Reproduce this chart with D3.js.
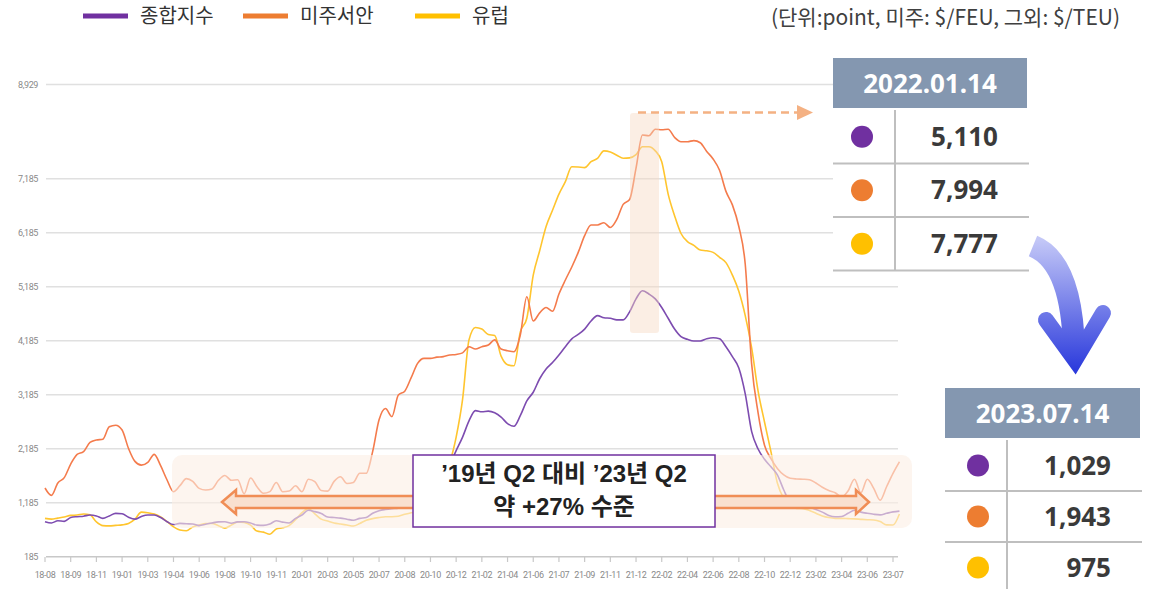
<!DOCTYPE html>
<html>
<head>
<meta charset="utf-8">
<script src="https://cdn.jsdelivr.net/npm/d3@7"></script>
<style>
  body { margin: 0; background: #fff; }
  svg { display: block; }
</style>
</head>
<body>
<div id="chart"></div>
<script>
var width = 1153,
    height = 589;

// x axis labels (one every ~7 weeks)
var xLabels = ["18-08","18-09","18-11","19-01","19-03","19-04","19-06","19-08","19-10","19-11",
  "20-01","20-03","20-05","20-07","20-08","20-10","20-12","21-02","21-04","21-06","21-07",
  "21-09","21-11","21-12","22-02","22-04","22-06","22-08","22-10","22-12","23-02","23-04",
  "23-06","23-07"];
var yTicks = [185, 1185, 2185, 3185, 4185, 5185, 6185, 7185, 8929];

// values, 4 points per label step
var composite = [833,810,850,840,910,926,935,957,940,895,940,988,980,915,880,930,957,957,910,833,
  780,802,795,790,760,785,810,830,833,805,830,833,810,770,765,790,850,825,810,895,
  957,1045,1020,985,920,910,900,880,860,895,910,990,1037,1060,1075,1085,1120,1180,1260,1350,
  1450,1580,1720,1900,2150,2400,2700,2890,2870,2880,2850,2770,2650,2600,2800,3070,3230,3480,3660,3780,
  3920,4074,4220,4300,4400,4550,4650,4610,4600,4570,4570,4720,4960,5110,5050,4960,4800,4600,4400,4259,
  4210,4180,4180,4220,4240,4220,4074,3890,3680,3200,2500,2180,1990,1850,1700,1420,1190,1130,1111,1095,
  1060,1010,950,926,930,988,1045,1010,988,970,960,988,1015,1029];
var usWest = [1457,1320,1550,1650,1900,2080,2130,2300,2345,2360,2590,2620,2530,2190,1950,1880,1930,2080,1870,1605,
  1389,1500,1630,1580,1450,1420,1440,1600,1690,1600,1610,1350,1642,1480,1359,1390,1560,1389,1400,1500,
  1389,1620,1574,1410,1400,1580,1666,1540,1560,1729,1729,2130,2720,2930,2780,3180,3250,3500,3765,3858,
  3858,3880,3890,3920,3930,3960,4074,4030,4074,4105,4200,4030,4000,3981,4300,5000,4550,4700,4800,4730,
  5050,5309,5550,5820,6130,6328,6328,6370,6280,6430,6710,6800,7380,7994,7980,8100,8090,8100,7950,7870,
  7870,7890,7850,7690,7550,7340,6950,6700,6300,5600,3750,2850,2250,2000,1820,1700,1637,1625,1620,1610,
  1550,1470,1410,1370,1290,1400,1620,1370,1620,1450,1230,1480,1729,1943];
var europe = [895,880,900,920,950,957,975,960,830,760,755,765,775,800,880,1010,1000,975,920,833,
  740,679,665,735,770,800,800,760,715,770,830,820,770,660,640,600,700,720,760,870,
  1000,1075,980,880,845,810,790,772,753,800,860,890,910,926,926,935,970,1000,1020,1040,
  1080,1150,1400,1900,2400,3100,4200,4430,4400,4300,4280,3900,3740,3720,4350,4600,5400,5850,6300,6600,
  6900,7130,7405,7400,7390,7500,7560,7700,7680,7620,7562,7570,7630,7777,7777,7700,7500,6900,6500,6170,
  6020,5950,5864,5850,5820,5730,5630,5400,5100,4650,4050,3250,2680,2130,1550,1260,1120,1080,1075,1040,
  990,940,910,895,895,890,885,877,870,864,835,775,772,975];

var seriesNames = ["종합지수", "미주서안", "유럽"];
var legendColors = ["#7030A0", "#ED7D31", "#FFC000"];
var lineColors = ["#7D4CB0", "#F47B4C", "#FFC52E"];

var table1Date = "2022.01.14";
var table1Values = ["5,110", "7,994", "7,777"];
var table2Date = "2023.07.14";
var table2Values = ["1,029", "1,943", "975"];

var svg = d3.select("#chart")
    .append("svg")
    .attr("width", width)
    .attr("height", height);

var defs = svg.append("defs");
var grad = defs.append("linearGradient")
    .attr("id", "blueArrow")
    .attr("gradientUnits", "userSpaceOnUse")
    .attr("x1", 0).attr("y1", 240).attr("x2", 0).attr("y2", 370);
grad.append("stop").attr("offset", "0%").attr("stop-color", "#C3C7F7");
grad.append("stop").attr("offset", "100%").attr("stop-color", "#2C3BDC");

var x = d3.scaleLinear().domain([0, xLabels.length - 1]).range([45, 893]);
var y = d3.scaleLinear().domain([185, 8929]).range([556.7, 84.5]);

// grid lines
svg.append("g")
    .selectAll("line")
    .data(yTicks)
    .join("line")
    .attr("x1", 46)
    .attr("x2", 898)
    .attr("y1", d => y(d))
    .attr("y2", d => y(d))
    .attr("stroke", d => d == 185 ? "#C8C8C8" : "#E0E0E0")
    .attr("stroke-width", 1.5);

svg.append("g")
    .selectAll("text")
    .data(yTicks)
    .join("text")
    .attr("x", 38)
    .attr("y", d => y(d) + 3)
    .attr("text-anchor", "end")
    .attr("font-family", "Roboto, 'Noto Sans', sans-serif")
    .attr("font-size", 9)
    .attr("letter-spacing", "-0.4")
    .attr("fill", "#8A8A8A")
    .text(d => d3.format(",")(d));

// x ticks and labels
var xg = svg.append("g");
xg.selectAll("line")
    .data(xLabels)
    .join("line")
    .attr("x1", (d, i) => x(i))
    .attr("x2", (d, i) => x(i))
    .attr("y1", 557)
    .attr("y2", 562)
    .attr("stroke", "#C8C8C8")
    .attr("stroke-width", 1.2);
xg.selectAll("text")
    .data(xLabels)
    .join("text")
    .attr("x", (d, i) => x(i))
    .attr("y", 578)
    .attr("text-anchor", "middle")
    .attr("font-family", "Roboto, 'Noto Sans', sans-serif")
    .attr("font-size", 9)
    .attr("letter-spacing", "-0.4")
    .attr("fill", "#8A8A8A")
    .text(d => d);

// lines
var line = d3.line()
    .x((d, i) => x(i / 4))
    .y(d => y(d))
    .curve(d3.curveMonotoneX);

[europe, usWest, composite].forEach(function(s, k) {
  var c = [lineColors[2], lineColors[1], lineColors[0]][k];
  svg.append("path")
      .attr("d", line(s))
      .attr("fill", "none")
      .attr("stroke", c)
      .attr("stroke-width", 1.6);
});

// highlight column at 2022.01.14
svg.append("rect")
    .attr("x", 630).attr("y", 113)
    .attr("width", 29).attr("height", 220)
    .attr("rx", 3)
    .attr("fill", "#F6D9C4")
    .attr("opacity", 0.45);

// dashed arrow to table
svg.append("line")
    .attr("x1", 638).attr("x2", 797)
    .attr("y1", 112.5).attr("y2", 112.5)
    .attr("stroke", "#F4B183")
    .attr("stroke-width", 2.5)
    .attr("stroke-dasharray", "8,5");
svg.append("path")
    .attr("d", "M797,105 L813,112.5 L797,120 Z")
    .attr("fill", "#F4B183");

// band for recent level
svg.append("rect")
    .attr("x", 172).attr("y", 455)
    .attr("width", 740).attr("height", 73)
    .attr("rx", 10)
    .attr("fill", "#FBEEE4")
    .attr("opacity", 0.6);

// double arrow
svg.append("path")
    .attr("d", "M222,502 L236,490 L236,496 L856,496 L856,490 L869,502 L856,514 L856,508 L236,508 L236,514 Z")
    .attr("fill", "#F9E0CF")
    .attr("stroke", "#F08D55")
    .attr("stroke-width", 2.5)
    .attr("stroke-linejoin", "miter");

// annotation box
svg.append("rect")
    .attr("x", 413).attr("y", 455)
    .attr("width", 302).attr("height", 72)
    .attr("fill", "#fff")
    .attr("stroke", "#7030A0")
    .attr("stroke-width", 1.5);
var ann = svg.append("text")
    .attr("text-anchor", "middle")
    .attr("font-family", "'Liberation Sans', 'Noto Sans CJK KR', sans-serif")
    .attr("font-weight", "bold")
    .attr("font-size", 24)
    .attr("fill", "#222");
ann.append("tspan").attr("x", 564).attr("y", 482).text("’19년 Q2 대비 ’23년 Q2");
ann.append("tspan").attr("x", 564).attr("y", 515).text("약 +27% 수준");

// legend
var lg = svg.append("g");
var legendX = [83, 243, 415];
seriesNames.forEach(function(n, i) {
  lg.append("line")
      .attr("x1", legendX[i]).attr("x2", legendX[i] + 45)
      .attr("y1", 16).attr("y2", 16)
      .attr("stroke", legendColors[i])
      .attr("stroke-width", 5);
  lg.append("text")
      .attr("x", legendX[i] + 57)
      .attr("y", 23)
      .attr("font-family", "'Noto Sans CJK KR', sans-serif")
      .attr("font-size", 20)
      .attr("fill", "#333")
      .text(n);
});

svg.append("text")
    .attr("x", 1120).attr("y", 25)
    .attr("text-anchor", "end")
    .attr("font-family", "'Noto Sans CJK KR', sans-serif")
    .attr("font-size", 21)
    .attr("fill", "#404040")
    .text("(단위:point, 미주: $/FEU, 그외: $/TEU)");

// tables
function drawTable(opt) {
  var g = svg.append("g");
  g.append("rect")
      .attr("x", opt.x).attr("y", opt.y + 50)
      .attr("width", opt.w).attr("height", opt.rowH * 3 + 4)
      .attr("fill", "#fff");
  g.append("rect")
      .attr("x", opt.x).attr("y", opt.y)
      .attr("width", opt.w).attr("height", 50)
      .attr("fill", "#8497B0");
  g.append("text")
      .attr("x", opt.x + opt.w / 2).attr("y", opt.y + 35)
      .attr("text-anchor", "middle")
      .attr("font-family", "'Noto Sans', sans-serif")
      .attr("font-weight", "bold")
      .attr("font-size", 26)
      .attr("fill", "#fff")
      .text(opt.date);
  g.append("line")
      .attr("x1", opt.divX).attr("x2", opt.divX)
      .attr("y1", opt.y + 52).attr("y2", opt.y + 52 + opt.rowH * 3)
      .attr("stroke", "#BFBFBF").attr("stroke-width", 2);
  opt.values.forEach(function(v, i) {
    var cy = opt.y + 52 + opt.rowH * i + opt.rowH / 2;
    if (i < 2 || opt.lastLine) {
      g.append("line")
          .attr("x1", opt.x).attr("x2", opt.x + opt.w + 2)
          .attr("y1", opt.y + 52 + opt.rowH * (i + 1))
          .attr("y2", opt.y + 52 + opt.rowH * (i + 1))
          .attr("stroke", "#BFBFBF").attr("stroke-width", 2);
    }
    g.append("circle")
        .attr("cx", opt.dotX).attr("cy", cy)
        .attr("r", 11)
        .attr("fill", legendColors[i]);
    g.append("text")
        .attr("x", opt.valX).attr("y", cy + 9)
        .attr("text-anchor", "end")
        .attr("font-family", "'Noto Sans', sans-serif")
        .attr("font-weight", "bold")
        .attr("font-size", 26)
        .attr("fill", "#3A3A3A")
        .text(v);
  });
}

drawTable({x: 833, y: 58, w: 194, rowH: 53.5, divX: 895, dotX: 862, valX: 998,
  date: table1Date, values: table1Values, lastLine: true});
drawTable({x: 945, y: 388, w: 195, rowH: 51, divX: 1007, dotX: 978, valX: 1111,
  date: table2Date, values: table2Values, lastLine: false});

// big curved arrow
svg.append("path")
    .attr("d", "M1033,246 Q1072,262 1074,350")
    .attr("fill", "none")
    .attr("stroke", "url(#blueArrow)")
    .attr("stroke-width", 22);
svg.append("path")
    .attr("d", "M1046,320 L1075,360 L1103,313")
    .attr("fill", "none")
    .attr("stroke", "url(#blueArrow)")
    .attr("stroke-width", 16)
    .attr("stroke-linecap", "round")
    .attr("stroke-linejoin", "miter");
</script>
</body>
</html>
